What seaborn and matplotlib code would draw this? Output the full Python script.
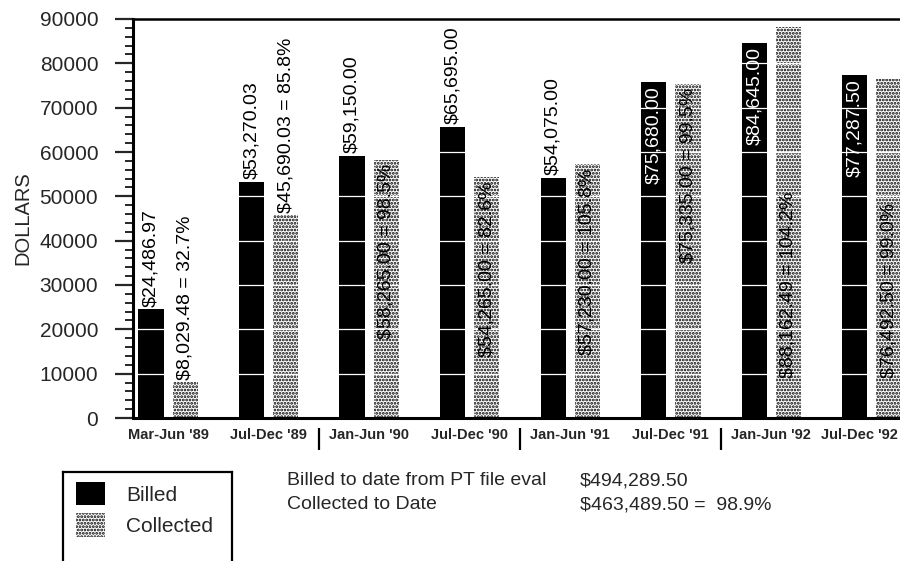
import matplotlib
matplotlib.use("Agg")
import matplotlib.pyplot as plt
from matplotlib.lines import Line2D
from matplotlib.patches import Patch
from matplotlib.transforms import offset_copy
import pandas as pd
import seaborn as sns

# Six-month billing periods
periods = ["Mar-Jun '89", "Jul-Dec '89", "Jan-Jun '90", "Jul-Dec '90",
           "Jan-Jun '91", "Jul-Dec '91", "Jan-Jun '92", "Jul-Dec '92"]
billed = [24486.97, 53270.03, 59150.00, 65695.00,
          54075.00, 75680.00, 84645.00, 77287.50]
collected = [8029.48, 45690.03, 58265.00, 54265.00,
             57230.00, 75335.00, 88162.49, 76492.50]
collected_pct = [32.7, 85.8, 98.5, 82.6, 105.8, 99.5, 104.2, 99.0]
y_ticks = [0, 10000, 20000, 30000, 40000, 50000, 60000, 70000, 80000, 90000]
series_names = ["Billed", "Collected"]
total_billed = 494289.50
total_collected = 463489.50
total_pct = 98.9

sns.set_style("white")
plt.rcParams["font.family"] = ["Liberation Sans", "DejaVu Sans"]
plt.rcParams["hatch.linewidth"] = 1.35

W, H = 900, 561
fig = plt.figure(figsize=(W / 100, H / 100), dpi=100)
ax = fig.add_axes([133 / W, (H - 418) / H, 1 - 133 / W, (418 - 19) / H])

df = pd.DataFrame({
    "period": periods * 2,
    "series": [series_names[0]] * len(periods) + [series_names[1]] * len(periods),
    "value": billed + collected,
})
sns.barplot(data=df, x="period", y="value", hue="series", order=periods,
            hue_order=series_names,
            palette={series_names[0]: "black", series_names[1]: "white"},
            saturation=1, width=0.68, gap=0.26, legend=False, ax=ax,
            errorbar=None)

billed_bars = ax.containers[0]
coll_bars = ax.containers[1]
for p in billed_bars:
    p.set_linewidth(0)
for p in coll_bars:
    p.set_hatch(".....")
    p.set_edgecolor("black")
    p.set_linewidth(0)

ax.set_xlim(-0.35, 7.28)
ax.set_ylim(y_ticks[0], y_ticks[-1])
ax.set_yticks(y_ticks)
ax.set_yticklabels([str(t) for t in y_ticks], fontsize=15)
ax.set_yticks(range(y_ticks[0], y_ticks[-1], 2000), minor=True)
ax.tick_params(axis="y", which="major", direction="out", length=13, width=1.6,
               pad=12, left=True)
ax.tick_params(axis="y", which="minor", direction="out", length=6, width=1.4,
               left=True)
ax.tick_params(axis="x", length=0, pad=7)
for lbl in ax.get_xticklabels():
    lbl.set_fontsize(10.5)
    lbl.set_fontweight("bold")
# keep the right-most period label inside the figure edge
last = ax.get_xticklabels()[-1]
last.set_transform(offset_copy(last.get_transform(), fig=fig, x=-12, units="dots"))
ax.set_xlabel("")
ax.set_ylabel("DOLLARS", fontsize=14.5, labelpad=5)

for side in ["left", "top", "bottom"]:
    ax.spines[side].set_visible(True)
    ax.spines[side].set_color("black")
ax.spines["left"].set_linewidth(2.2)
ax.spines["top"].set_linewidth(1.8)
ax.spines["bottom"].set_linewidth(2.2)
ax.spines["right"].set_visible(False)

# white rules across the bars at every major gridline
for t in y_ticks[1:-1]:
    ax.axhline(t, color="white", lw=0.9, zorder=1.5)

# year separators under the period labels
xform = ax.get_xaxis_transform()
for sep in [1.5, 3.5, 5.5]:
    ax.plot([sep, sep], [-0.025, -0.08], transform=xform, color="black",
            lw=1.6, clip_on=False, solid_capstyle="butt")

fig.canvas.draw()
renderer = fig.canvas.get_renderer()
ax_top = ax.get_window_extent(renderer).y1


def place_label(bar, text, inside_color, base_anchored=False):
    x = bar.get_x() + bar.get_width() / 2
    h = bar.get_height()
    if base_anchored:
        ax.annotate(text, (x, 0), xytext=(0, 29), textcoords="offset points",
                    rotation=90, ha="center", va="bottom", fontsize=14,
                    color=inside_color, zorder=4)
        return
    t = ax.annotate(text, (x, h), xytext=(0, 2), textcoords="offset points",
                    rotation=90, ha="center", va="bottom", fontsize=14,
                    color="black", zorder=4)
    if t.get_window_extent(renderer).y1 > ax_top:
        t.remove()
        ax.annotate(text, (x, h), xytext=(0, -3), textcoords="offset points",
                    rotation=90, ha="center", va="top", fontsize=14,
                    color=inside_color, zorder=4)


for i, bar in enumerate(billed_bars):
    place_label(bar, f"${billed[i]:,.2f}", "white")
for i, bar in enumerate(coll_bars):
    place_label(bar, f"${collected[i]:,.2f} = {collected_pct[i]:.1f}%", "black",
                base_anchored=periods[i].endswith("'92"))

# legend: swatches inside an open-bottomed box
leg = fig.legend(handles=[Patch(facecolor="black", edgecolor="black", lw=0),
                          Patch(facecolor="white", edgecolor="black", lw=0,
                                hatch=".....")],
                 labels=series_names, loc="upper left",
                 bbox_to_anchor=(76 / W, 1 - 482 / H), frameon=False,
                 fontsize=15, handlelength=1.4, handleheight=1.35,
                 labelspacing=0.38, handletextpad=1.0, borderpad=0,
                 borderaxespad=0)
bx0, bx1, by = 63 / W, 232 / W, 1 - 472 / H
for xs, ys in [([bx0, bx0], [0, by]), ([bx0, bx1], [by, by]), ([bx1, bx1], [by, 0])]:
    fig.add_artist(Line2D(xs, ys, transform=fig.transFigure, color="black",
                          lw=1.6, solid_capstyle="projecting"))

# running totals
fig.text(287 / W, 1 - 485 / H, "Billed to date from PT file eval",
         fontsize=14, va="baseline", ha="left")
fig.text(580 / W, 1 - 485 / H, f"${total_billed:,.2f}",
         fontsize=14, va="baseline", ha="left")
fig.text(287 / W, 1 - 509 / H, "Collected to Date",
         fontsize=14, va="baseline", ha="left")
fig.text(580 / W, 1 - 509 / H, f"${total_collected:,.2f} =  {total_pct:.1f}%",
         fontsize=14, va="baseline", ha="left")

fig.savefig("out.png", dpi=100)
